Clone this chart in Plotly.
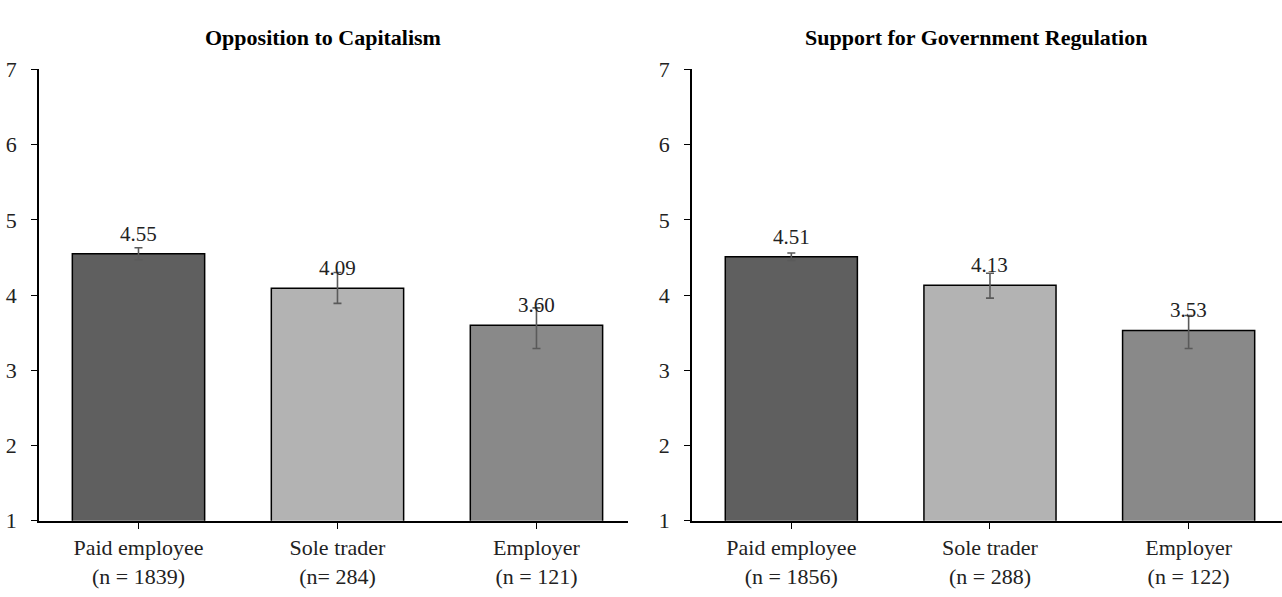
import plotly.graph_objects as go

# Employment groups and their sample sizes
categories = ["Paid employee", "Sole trader", "Employer"]
n_capitalism = [1839, 284, 121]
n_regulation = [1856, 288, 122]
n_fmt_capitalism = ["n = {}", "n= {}", "n = {}"]
n_fmt_regulation = ["n = {}", "n = {}", "n = {}"]

# Mean scores (scale 1-7) with error bar extents
capitalism_means = [4.55, 4.09, 3.60]
capitalism_err_plus = [0.08, 0.21, 0.23]
capitalism_err_minus = [0.08, 0.20, 0.31]

regulation_means = [4.51, 4.13, 3.53]
regulation_err_plus = [0.05, 0.16, 0.20]
regulation_err_minus = [0.05, 0.17, 0.24]

titles = ["Opposition to Capitalism", "Support for Government Regulation"]
y_ticks = [1, 2, 3, 4, 5, 6, 7]

bar_colors = ["#5f5f5f", "#b3b3b3", "#898989"]
FONT = "Liberation Serif, Times New Roman, serif"
W, H = 1282, 597

fig = go.Figure()


def tick_labels(counts, fmts):
    return [f"{c}<br>({f.format(n)})" for c, n, f in zip(categories, counts, fmts)]


panels = [
    (capitalism_means, capitalism_err_plus, capitalism_err_minus,
     tick_labels(n_capitalism, n_fmt_capitalism), "x", "y"),
    (regulation_means, regulation_err_plus, regulation_err_minus,
     tick_labels(n_regulation, n_fmt_regulation), "x2", "y2"),
]

for means, ep, em, labels, xa, ya in panels:
    fig.add_trace(go.Bar(
        x=labels, y=means,
        xaxis=xa, yaxis=ya,
        width=0.665,
        marker=dict(color=bar_colors, line=dict(color="#000000", width=1.5)),
        error_y=dict(type="data", symmetric=False, array=ep, arrayminus=em,
                     color="#5a5a5a", thickness=1.6, width=4),
        showlegend=False, hoverinfo="skip",
    ))
    for lab, m in zip(labels, means):
        fig.add_annotation(
            x=lab, y=m, xref=xa, yref=ya, text=f"{m:.2f}",
            showarrow=False, yanchor="bottom", yshift=6,
            font=dict(family=FONT, size=21, color="#222222"),
        )

y_dom = [(H - 531) / H, (H - 60) / H]
axis_common = dict(showline=True, linecolor="#000000", linewidth=1.5,
                   ticks="outside", ticklen=6, tickcolor="#000000", tickwidth=1.2,
                   showgrid=False, zeroline=False,
                   tickfont=dict(family=FONT, size=22, color="#222222"))

fig.update_layout(
    width=W, height=H,
    margin=dict(l=0, r=0, t=0, b=0),
    paper_bgcolor="white", plot_bgcolor="white",
    xaxis=dict(domain=[39 / W, 628 / W], range=[-0.5, 2.46], anchor="y",
               type="category", **axis_common),
    yaxis=dict(domain=y_dom, range=[1, 7], tickvals=y_ticks, anchor="x",
               ticklabelstandoff=10, **axis_common),
    xaxis2=dict(domain=[692 / W, 1.0], range=[-0.5, 2.47], anchor="y2",
                type="category", **axis_common),
    yaxis2=dict(domain=y_dom, range=[1, 7], tickvals=y_ticks, anchor="x2",
                ticklabelstandoff=10, **axis_common),
)

for title, cx in zip(titles, [323, 976]):
    fig.add_annotation(
        x=cx / W, y=1 - 27 / H, xref="paper", yref="paper",
        text=f"<b>{title}</b>", showarrow=False,
        xanchor="center", yanchor="middle",
        font=dict(family=FONT, size=22, color="#000000"),
    )

fig.write_html("out.html")
